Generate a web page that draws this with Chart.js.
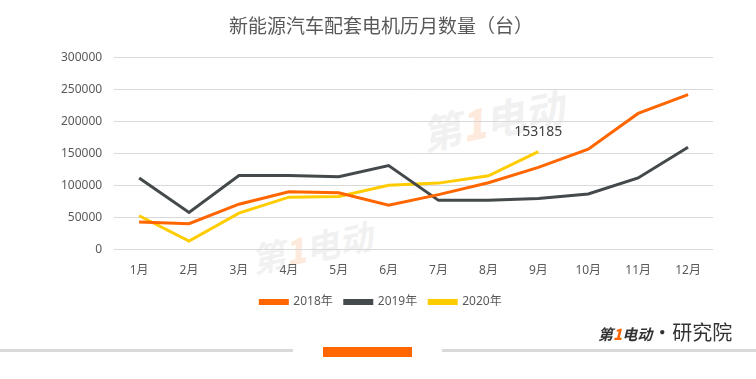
<!DOCTYPE html>
<html>
<head>
<meta charset="utf-8">
<script src="https://cdn.jsdelivr.net/npm/chart.js@4"></script>
<style>
  html, body { margin: 0; padding: 0; background: #fff; }
  #wrap { position: relative; width: 756px; height: 379px; overflow: hidden; font-family: "Noto Sans", "Noto Sans CJK SC", sans-serif; }
  #box { position: absolute; left: 0; top: 0; width: 756px; height: 324px; }
  .wm { position: absolute; color: #f1f1f1; font-weight: bold; font-style: italic; transform: rotate(-12deg); font-family: "Noto Sans CJK SC", sans-serif; }
  .wm b { color: #fdeadc; }
  .bar { position: absolute; background: #d9d9d9; height: 3px; top: 349px; }
  #mark { position: absolute; left: 323px; top: 347px; width: 89px; height: 10px; background: #ff6600; }
  #logo { position: absolute; left: 598px; top: 317px; font-family: "Noto Sans CJK SC", sans-serif; color: #333; white-space: nowrap; }
  #logo .a { font-size: 15px; font-weight: bold; font-style: italic; }
  #logo .a b { color: #ff6600; }
  #logo .b { font-size: 20px; }
</style>
</head>
<body>
<div id="wrap">
  <div class="wm" style="left:420px;top:90px;font-size:40px;">第<b>1</b>电动</div>
  <div class="wm" style="left:250px;top:222px;font-size:34px;">第<b>1</b>电动</div>
  <div id="box"><canvas id="motorChart"></canvas></div>
  <div class="bar" style="left:0;width:293px;"></div>
  <div id="mark"></div>
  <div class="bar" style="left:442px;width:314px;"></div>
  <div id="logo"><span class="a">第<b>1</b>电动</span><span class="b">·研究院</span></div>
</div>
<script>
const months = ["1月", "2月", "3月", "4月", "5月", "6月", "7月", "8月", "9月", "10月", "11月", "12月"];
const y2018 = [43000, 40500, 71000, 90500, 89000, 69500, 86000, 104500, 128500, 157000, 213000, 242500];
const y2019 = [112000, 58000, 116000, 116000, 114000, 131500, 77000, 77000, 80000, 87000, 112000, 160000];
const y2020 = [53000, 13500, 57000, 82000, 83000, 100500, 104000, 115500, 153185];

const textColor = "#595959";

// value label over the last 2020 point
const lastLabel = {
  id: "lastLabel",
  afterDatasetsDraw(chart) {
    const meta = chart.getDatasetMeta(2);
    const pt = meta.data[y2020.length - 1];
    const ctx = chart.ctx;
    ctx.save();
    ctx.font = "14px 'Noto Sans', 'Noto Sans CJK SC'";
    ctx.fillStyle = "#404040";
    ctx.textAlign = "center";
    ctx.textBaseline = "middle";
    ctx.fillText(String(y2020[y2020.length - 1]), pt.x, pt.y - 20);
    ctx.restore();
  },
};

new Chart(document.getElementById("motorChart"), {
  type: "line",
  data: {
    labels: months,
    datasets: [
      { label: "2018年", data: y2018, borderColor: "#ff6600", backgroundColor: "#ff6600" },
      { label: "2019年", data: y2019, borderColor: "#44494b", backgroundColor: "#44494b" },
      { label: "2020年", data: y2020, borderColor: "#ffcc00", backgroundColor: "#ffcc00" },
    ],
  },
  options: {
    responsive: true,
    maintainAspectRatio: false,
    animation: false,
    elements: {
      line: { borderWidth: 3, tension: 0 },
      point: { radius: 0 },
    },
    layout: { padding: { left: 49, right: 43, top: 0, bottom: 6 } },
    plugins: {
      title: {
        display: true,
        text: "新能源汽车配套电机历月数量（台）",
        color: textColor,
        font: { size: 19, family: "'Noto Sans CJK SC'", weight: "normal" },
        padding: { top: 14, bottom: 21 },
      },
      legend: {
        position: "bottom",
        labels: {
          color: textColor,
          boxWidth: 27,
          boxHeight: 3,
          padding: 12,
          font: { size: 12, family: "'Noto Sans', 'Noto Sans CJK SC'" },
        },
      },
      tooltip: { enabled: false },
    },
    scales: {
      x: {
        offset: true,
        grid: { display: false },
        border: { display: false },
        ticks: { color: textColor, font: { size: 12, family: "'Noto Sans', 'Noto Sans CJK SC'" }, padding: 6 },
      },
      y: {
        min: 0,
        max: 300000,
        grid: { color: "#d9d9d9", lineWidth: 1, drawTicks: false },
        border: { display: false },
        ticks: {
          stepSize: 50000,
          color: textColor,
          padding: 12,
          font: { size: 12, family: "'Noto Sans', 'Noto Sans CJK SC'" },
          callback: (v) => String(v),
        },
      },
    },
  },
  plugins: [lastLabel],
});
</script>
</body>
</html>
